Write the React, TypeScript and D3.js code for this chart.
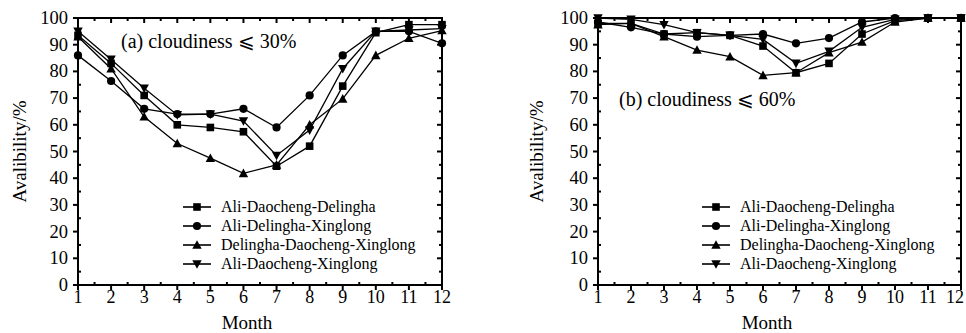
import React from "react";
import * as d3 from "d3";

const months = [1, 2, 3, 4, 5, 6, 7, 8, 9, 10, 11, 12];
const seriesNames = [
  "Ali-Daocheng-Delingha",
  "Ali-Delingha-Xinglong",
  "Delingha-Daocheng-Xinglong",
  "Ali-Daocheng-Xinglong",
];
const markerTypes = ["square", "circle", "triangle", "invtriangle"];

// Panel (a): cloudiness <= 30%
const a_AliDaochengDelingha = [93.5, 83, 71, 60, 59, 57.4, 44.5, 52, 74.5, 94.5, 97.5, 97.5];
const a_AliDelinghaXinglong = [86, 76.4, 66, 64, 64, 66, 59, 71, 86, 95, 95, 90.5];
const a_DelinghaDaochengXinglong = [93, 81, 63, 53, 47.5, 41.8, 45, 60, 69.7, 86, 92.4, 95.3];
const a_AliDaochengXinglong = [95, 84.5, 73.7, 63.7, 64, 61.4, 48.5, 58, 81, 95, 95.5, 96];

// Panel (b): cloudiness <= 60%
const b_AliDaochengDelingha = [98, 98, 94, 94.5, 93.5, 89.5, 79.5, 83, 94, 99, 100, 100];
const b_AliDelinghaXinglong = [98.5, 96.5, 94, 93, 93.5, 94, 90.5, 92.5, 98.5, 100, 100, 100];
const b_DelinghaDaochengXinglong = [97.5, 98, 93, 88, 85.5, 78.5, 79.5, 87, 91, 98.5, 100, 100];
const b_AliDaochengXinglong = [100, 99.5, 97.5, 94.5, 93.5, 92, 83, 87.5, 96.5, 99.5, 100, 100];

const yTicks = [0, 10, 20, 30, 40, 50, 60, 70, 80, 90, 100];

const FONT = "'Liberation Serif', 'Times New Roman', serif";
const W = 966;

function Marker({ type, x, y }: { type: string; x: number; y: number }) {
  const s = 3.8;
  if (type === "square") return <rect x={x - s} y={y - s} width={2 * s} height={2 * s} fill="#000" />;
  if (type === "circle") return <circle cx={x} cy={y} r={s + 0.3} fill="#000" />;
  if (type === "triangle")
    return <path d={`M${x},${y - s - 1}L${x + s + 0.9},${y + s}L${x - s - 0.9},${y + s}Z`} fill="#000" />;
  return <path d={`M${x},${y + s + 1}L${x + s + 0.9},${y - s}L${x - s - 0.9},${y - s}Z`} fill="#000" />;
}

type PanelProps = {
  x0: number;
  x1: number;
  y0: number;
  y1: number;
  data: number[][];
  title: string;
  titleX: number;
  titleY: number;
  legX: number;
  legY: number;
  monthX: number;
  ylabX: number;
};

function Panel(p: PanelProps) {
  const xs = d3.scaleLinear().domain([1, 12]).range([p.x0, p.x1]);
  const ys = d3.scaleLinear().domain([0, 100]).range([p.y1, p.y0]);
  const line = d3
    .line<number>()
    .x((_, i) => xs(months[i]))
    .y((d) => ys(d));
  const xMinor = d3.range(1.5, 12, 1);
  const yMinor = d3.range(5, 100, 10);
  const legStep = 19;
  return (
    <g>
      {p.data.map((s, si) => (
        <g key={si}>
          <path d={line(s) || ""} fill="none" stroke="#000" strokeWidth={1.3} />
          {s.map((v, i) => (
            <Marker key={i} type={markerTypes[si]} x={xs(months[i])} y={ys(v)} />
          ))}
        </g>
      ))}
      <rect x={p.x0} y={p.y0} width={p.x1 - p.x0} height={p.y1 - p.y0} fill="none" stroke="#000" strokeWidth={2} />
      {months.map((m) => {
        const lx = Math.min(xs(m), W - 11);
        return (
          <g key={"xt" + m}>
            <line x1={xs(m)} x2={xs(m)} y1={p.y1} y2={p.y1 + 5} stroke="#000" strokeWidth={2} />
            <line x1={xs(m)} x2={xs(m)} y1={p.y0} y2={p.y0 + 5} stroke="#000" strokeWidth={2} />
            <text x={lx} y={p.y1 + 18} textAnchor="middle" fontSize={18} fontFamily={FONT}>
              {m}
            </text>
          </g>
        );
      })}
      {xMinor.map((m) => (
        <g key={"xm" + m}>
          <line x1={xs(m)} x2={xs(m)} y1={p.y1} y2={p.y1 - 3} stroke="#000" strokeWidth={2} />
          <line x1={xs(m)} x2={xs(m)} y1={p.y0} y2={p.y0 + 3} stroke="#000" strokeWidth={2} />
        </g>
      ))}
      {yTicks.map((t) => (
        <g key={"yt" + t}>
          <line x1={p.x0} x2={p.x0 - 5} y1={ys(t)} y2={ys(t)} stroke="#000" strokeWidth={2} />
          <line x1={p.x1} x2={p.x1 - 5} y1={ys(t)} y2={ys(t)} stroke="#000" strokeWidth={2} />
          <text x={p.x0 - 10} y={ys(t) + 6} textAnchor="end" fontSize={18.5} fontFamily={FONT}>
            {t}
          </text>
        </g>
      ))}
      {yMinor.map((t) => (
        <g key={"ym" + t}>
          <line x1={p.x0} x2={p.x0 + 3} y1={ys(t)} y2={ys(t)} stroke="#000" strokeWidth={2} />
          <line x1={p.x1} x2={p.x1 - 3} y1={ys(t)} y2={ys(t)} stroke="#000" strokeWidth={2} />
        </g>
      ))}
      <text x={p.monthX} y={p.y1 + 44} textAnchor="middle" fontSize={19} fontFamily={FONT}>
        Month
      </text>
      <text
        transform={`translate(${p.ylabX},${(p.y0 + p.y1) / 2}) rotate(-90)`}
        textAnchor="middle"
        fontSize={19}
        fontFamily={FONT}
      >
        Avalibility/%
      </text>
      <text x={p.titleX} y={p.titleY} fontSize={20} fontFamily={FONT}>
        {p.title}
      </text>
      {seriesNames.map((n, i) => {
        const yy = p.legY + i * legStep;
        return (
          <g key={"lg" + i}>
            <line x1={p.legX} x2={p.legX + 28} y1={yy} y2={yy} stroke="#000" strokeWidth={1.6} />
            <Marker type={markerTypes[i]} x={p.legX + 14} y={yy} />
            <text x={p.legX + 38} y={yy + 5} fontSize={16} fontFamily={FONT}>
              {n}
            </text>
          </g>
        );
      })}
    </g>
  );
}

export default function App() {
  const dataA = [a_AliDaochengDelingha, a_AliDelinghaXinglong, a_DelinghaDaochengXinglong, a_AliDaochengXinglong];
  const dataB = [b_AliDaochengDelingha, b_AliDelinghaXinglong, b_DelinghaDaochengXinglong, b_AliDaochengXinglong];
  return (
    <svg width={W} height={333} style={{ position: "absolute", left: 0, top: 0, background: "#fff" }}>
      <rect x={0} y={0} width={W} height={333} fill="#fff" />
      <Panel
        x0={78}
        x1={442}
        y0={18}
        y1={285}
        data={dataA}
        title="(a) cloudiness ⩽ 30%"
        titleX={121}
        titleY={48}
        legX={183}
        legY={207}
        monthX={247}
        ylabX={26}
      />
      <Panel
        x0={598}
        x1={961}
        y0={18}
        y1={285}
        data={dataB}
        title="(b) cloudiness ⩽ 60%"
        titleX={619}
        titleY={106}
        legX={702}
        legY={207}
        monthX={767}
        ylabX={543}
      />
    </svg>
  );
}
